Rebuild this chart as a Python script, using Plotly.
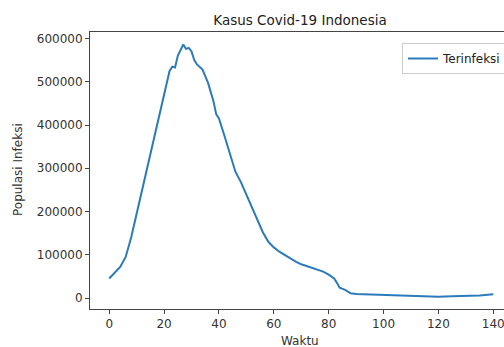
import plotly.graph_objects as go

waktu = [0, 2, 4, 6, 8, 10, 12, 14, 16, 18, 20, 22, 23, 24, 25, 26, 27, 28, 29, 30,
         31, 32, 34, 36, 38, 39, 40, 42, 44, 46, 48, 50, 52, 54, 56, 58, 60, 62, 64,
         66, 68, 70, 72, 74, 76, 78, 80, 82, 83, 84, 86, 88, 90, 95, 100, 105, 110,
         115, 120, 125, 130, 135, 140]
terinfeksi = [45000, 58000, 72000, 95000, 140000, 195000, 250000, 305000, 355000,
              410000, 465000, 525000, 535000, 533000, 560000, 575000, 586000, 576000,
              578000, 570000, 550000, 540000, 528000, 498000, 455000, 425000, 415000,
              375000, 335000, 292000, 268000, 238000, 212000, 180000, 152000, 130000,
              117000, 107000, 99000, 93000, 84000, 78000, 74000, 70000, 66000, 61000,
              54000, 45000, 35000, 24000, 19000, 11000, 9500, 8500, 7000, 5800, 4500,
              3500, 3200, 3800, 4500, 6000, 8500]

x_ticks = [0, 20, 40, 60, 80, 100, 120, 140]
y_ticks = [0, 100000, 200000, 300000, 400000, 500000, 600000]

W, H = 504, 347
L, R, T, B = 90, 0, 32, 38
PW, PH = W - L - R, H - T - B

fig = go.Figure()
fig.add_trace(go.Scatter(x=waktu, y=terinfeksi, mode="lines", name="Terinfeksi",
                         line=dict(color="#2b7bba", width=2)))

fig.update_layout(
    width=W, height=H,
    margin=dict(l=L, r=R, t=T, b=B, autoexpand=False),
    paper_bgcolor="white", plot_bgcolor="white",
    font=dict(family="DejaVu Sans", size=12, color="#333333"),
    title=dict(text="Kasus Covid-19 Indonesia", x=300 / W, xref="container",
               xanchor="center", y=1 - 20 / H, yref="container", yanchor="middle",
               font=dict(family="DejaVu Sans", size=13.5, color="#222222")),
    showlegend=True,
    legend=dict(x=(402 - L) / PW, y=((H - B) - 43) / PH, xanchor="left", yanchor="top",
                bordercolor="#cccccc", borderwidth=1, bgcolor="white",
                font=dict(family="DejaVu Sans", size=12, color="#222222")),
    annotations=[
        dict(text="Waktu", x=(300 - L) / PW, y=-(341 - (H - B)) / PH,
             xref="paper", yref="paper", xanchor="center", yanchor="middle",
             showarrow=False, font=dict(family="DejaVu Sans", size=12, color="#333333")),
        dict(text="Populasi Infeksi", x=-(L - 18) / PW, y=((H - B) - 170) / PH,
             xref="paper", yref="paper", xanchor="center", yanchor="middle",
             showarrow=False, textangle=-90,
             font=dict(family="DejaVu Sans", size=12, color="#333333")),
    ],
)

fig.update_xaxes(range=[-7, 143.9], tickvals=x_ticks, ticktext=[str(v) for v in x_ticks],
                 showgrid=False, zeroline=False, showline=True, mirror=True,
                 linecolor="#444444", linewidth=1, ticks="outside", ticklen=4,
                 tickcolor="#444444", automargin=False, ticklabeloverflow="allow")
fig.update_yaxes(range=[-25400, 615000], tickvals=y_ticks, ticktext=[str(v) for v in y_ticks],
                 showgrid=False, zeroline=False, showline=True, mirror=False,
                 linecolor="#444444", linewidth=1, ticks="outside", ticklen=4,
                 tickcolor="#444444", automargin=False, ticklabeloverflow="allow")

fig.write_html("out.html", config={"displayModeBar": False},
               post_script="document.body.style.margin='0';document.body.style.overflow='hidden';")
